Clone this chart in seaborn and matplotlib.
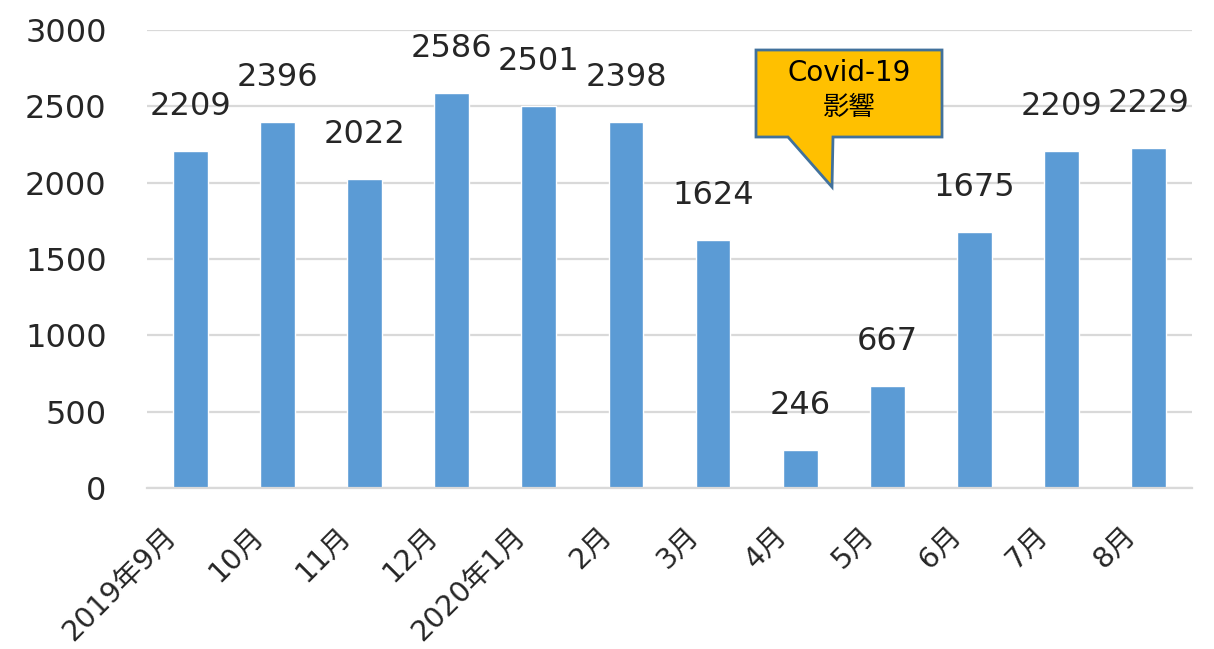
import matplotlib
matplotlib.use("Agg")
import matplotlib.pyplot as plt
import matplotlib.transforms as mtransforms
from matplotlib.patches import Polygon
import pandas as pd
import seaborn as sns

# data
months = ["2019年9月", "10月", "11月", "12月", "2020年1月", "2月",
          "3月", "4月", "5月", "6月", "7月", "8月"]
counts = [2209, 2396, 2022, 2586, 2501, 2398, 1624, 246, 667, 1675, 2209, 2229]
y_ticks = [0, 500, 1000, 1500, 2000, 2500, 3000]

df = pd.DataFrame({"month": months, "count": counts})

sns.set_style("white")
plt.rcParams["font.family"] = ["DejaVu Sans", "Noto Sans CJK JP"]
text_color = "#262626"

fig = plt.figure(figsize=(12.14, 6.49), dpi=100)
ax = fig.add_axes([147 / 1214, 1 - 488 / 649, (1192 - 147) / 1214, (488 - 30) / 649])

sns.barplot(data=df, x="month", y="count", color="#5B9BD5", width=0.4,
            saturation=1, ax=ax)

ax.set_xlim(-0.5, len(months) - 0.5)
ax.set_ylim(0, 3000)
ax.set_yticks(y_ticks)
ax.set_xlabel("")
ax.set_ylabel("")

# grid and spines
ax.set_axisbelow(True)
ax.yaxis.grid(True, color="#D9D9D9", linewidth=1.6)
for side in ["top", "right", "left"]:
    ax.spines[side].set_visible(False)
ax.spines["bottom"].set_color("#D9D9D9")
ax.spines["bottom"].set_linewidth(1.6)
ax.tick_params(axis="both", length=0, labelsize=23, colors=text_color)
ax.tick_params(axis="y", pad=29)

# rotated month labels
offset = mtransforms.ScaledTranslation(-18 / 100, -38 / 100, fig.dpi_scale_trans)
for lbl in ax.get_xticklabels():
    lbl.set_rotation(45)
    lbl.set_ha("right")
    lbl.set_va("center")
    lbl.set_rotation_mode("anchor")
    lbl.set_fontsize(20.5)
    lbl.set_transform(lbl.get_transform() + offset)

# value labels
ax.bar_label(ax.containers[0], labels=[str(v) for v in counts], padding=21,
             fontsize=23, color=text_color)

# Covid-19 callout
def fx(px):
    return px / 1214

def fy(py):
    return 1 - py / 649

callout = Polygon(
    [(fx(756), fy(50)), (fx(942), fy(50)), (fx(942), fy(137)), (fx(833), fy(137)),
     (fx(832), fy(187)), (fx(788), fy(137)), (fx(756), fy(137))],
    closed=True, facecolor="#FFC000", edgecolor="#41719C", linewidth=2,
    transform=fig.transFigure, zorder=5)
fig.add_artist(callout)
fig.text(fx(849), fy(73), "Covid-19", ha="center", va="center", fontsize=20,
         color="black", zorder=6)
fig.text(fx(849), fy(108), "影響", ha="center", va="center", fontsize=19,
         color="black", zorder=6)

fig.savefig("out.png", dpi=100)
